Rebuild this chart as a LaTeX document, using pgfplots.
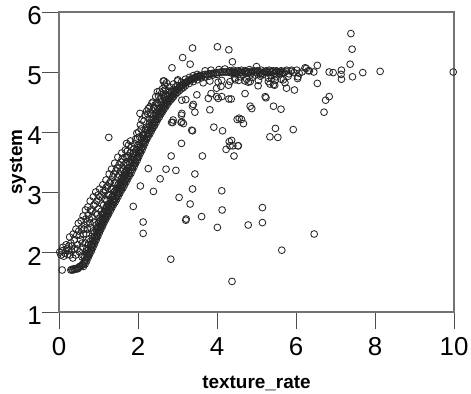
\documentclass[border=0pt]{standalone}
\usepackage{pgfplots}
\pgfplotsset{compat=1.18}
\usepackage{fontspec}
\setmainfont{Liberation Sans}
\tikzset{pt/.style={only marks, mark=o, mark size=3.4bp, draw=black!85, mark options={line width=0.85bp, draw=black!85, fill=none}}}
\begin{document}
\begin{tikzpicture}
\begin{axis}[
  scale only axis, width=395bp, height=300bp,
  xmin=0, xmax=10, ymin=1, ymax=6,
  xtick={0,2,4,6,8,10}, ytick={1,2,3,4,5,6},
  tick align=outside, major tick length=17bp,
  xtick pos=bottom, ytick pos=left,
  tick style={draw=black!70, line width=0.8bp},
  axis line style={draw=black!55, line width=1.3bp},
  /pgf/number format/assume math mode=true,
  ticklabel style={font=\fontsize{26}{28}\selectfont, inner sep=0pt},
  xticklabel style={yshift=-8bp},
  yticklabel style={yshift=-4bp},
  xlabel={texture\_rate}, ylabel={system},
  xlabel style={font=\fontsize{19}{21}\selectfont\bfseries, at={(axis description cs:0.5,0)}, anchor=center, yshift=-71bp},
  ylabel style={font=\fontsize{19}{21}\selectfont\bfseries, at={([xshift=-41bp]axis description cs:0,0.5)}, anchor=center},
]
% main curve
\addplot[pt] table {
x y
0.300 1.70
0.325 1.71
0.350 1.70
0.375 1.72
0.400 1.71
0.425 1.72
0.450 1.73
0.475 1.72
0.500 1.74
0.525 1.76
0.550 1.76
0.575 1.78
0.600 1.79
0.625 1.82
0.650 1.84
0.675 1.87
0.700 1.90
0.725 1.93
0.750 1.97
0.775 2.00
0.800 2.04
0.825 2.08
0.850 2.11
0.875 2.15
0.900 2.19
0.925 2.23
0.950 2.26
0.975 2.30
1.000 2.34
1.025 2.37
1.050 2.41
1.075 2.44
1.100 2.48
1.125 2.51
1.150 2.55
1.175 2.58
1.200 2.61
1.225 2.64
1.250 2.68
1.275 2.71
1.300 2.74
1.325 2.77
1.350 2.80
1.375 2.83
1.400 2.86
1.425 2.89
1.450 2.92
1.475 2.95
1.500 2.98
1.525 3.01
1.550 3.04
1.575 3.07
1.600 3.10
1.625 3.13
1.650 3.16
1.675 3.19
1.700 3.22
1.725 3.25
1.750 3.28
1.775 3.31
1.800 3.34
1.825 3.37
1.850 3.41
1.875 3.44
1.900 3.47
1.925 3.50
1.950 3.54
1.975 3.57
2.000 3.60
2.025 3.65
2.050 3.68
2.075 3.72
2.100 3.75
2.125 3.79
2.150 3.82
2.175 3.86
2.200 3.89
2.225 3.92
2.250 3.96
2.275 3.99
2.300 4.02
2.325 4.05
2.350 4.08
2.375 4.11
2.400 4.14
2.425 4.17
2.450 4.20
2.475 4.23
2.500 4.26
2.525 4.29
2.550 4.32
2.575 4.34
2.600 4.37
2.625 4.40
2.650 4.42
2.675 4.45
2.700 4.47
2.725 4.49
2.750 4.52
2.775 4.54
2.800 4.56
2.825 4.58
2.850 4.60
2.875 4.62
2.900 4.64
2.925 4.66
2.950 4.68
2.975 4.69
3.000 4.71
3.025 4.72
3.050 4.74
3.075 4.75
3.100 4.77
3.125 4.78
3.150 4.79
3.175 4.81
3.200 4.82
3.225 4.83
3.250 4.84
3.275 4.85
3.300 4.86
3.325 4.87
3.350 4.88
3.375 4.88
3.400 4.89
3.425 4.90
3.450 4.91
3.475 4.91
3.500 4.92
3.525 4.93
3.550 4.93
3.575 4.94
3.600 4.94
3.650 4.95
3.700 4.96
3.750 4.96
3.800 4.97
3.850 4.97
3.900 4.98
3.950 4.98
4.000 4.99
4.050 4.99
4.100 5.00
4.150 5.00
4.200 5.00
4.250 5.00
4.300 5.00
};
% second row of the curve
\addplot[pt] table {
x y
0.65 1.91
0.70 1.97
0.75 2.04
0.80 2.11
0.85 2.18
0.90 2.26
0.95 2.33
1.00 2.41
1.05 2.48
1.10 2.55
1.15 2.62
1.20 2.68
1.25 2.75
1.30 2.81
1.35 2.87
1.40 2.93
1.45 2.99
1.50 3.05
1.55 3.11
1.60 3.17
1.65 3.23
1.70 3.29
1.75 3.35
1.80 3.41
1.85 3.48
1.90 3.54
1.95 3.61
2.00 3.67
2.05 3.75
2.10 3.82
2.15 3.89
2.20 3.96
2.25 4.03
2.30 4.09
2.35 4.15
2.40 4.21
2.45 4.27
2.50 4.33
2.55 4.39
2.60 4.44
2.65 4.49
2.70 4.54
2.75 4.59
2.80 4.63
2.85 4.67
2.90 4.71
3.00 4.77
3.10 4.83
3.20 4.88
3.30 4.91
3.40 4.94
3.50 4.96
};
% third row (lower edge of the curve)
\addplot[pt] table {
x y
0.62 1.76
0.66 1.80
0.70 1.85
0.74 1.91
0.78 1.97
0.82 2.02
0.86 2.08
0.90 2.14
0.94 2.20
0.98 2.26
1.02 2.32
1.06 2.38
1.10 2.43
1.14 2.49
1.18 2.54
1.22 2.59
1.26 2.64
1.30 2.69
1.34 2.74
1.38 2.79
1.42 2.83
1.46 2.88
1.50 2.93
1.54 2.98
1.58 3.03
1.62 3.07
1.66 3.12
1.70 3.17
1.74 3.22
1.78 3.27
1.82 3.31
1.86 3.37
1.90 3.42
1.94 3.48
1.98 3.53
2.02 3.59
2.06 3.65
2.10 3.70
2.14 3.76
2.18 3.82
2.22 3.88
2.26 3.93
2.30 3.97
2.34 4.02
2.38 4.07
2.42 4.11
2.46 4.16
2.50 4.21
2.54 4.25
2.58 4.30
2.62 4.34
2.66 4.38
2.70 4.42
2.74 4.46
2.78 4.50
2.82 4.53
2.86 4.56
2.90 4.59
2.95 4.63
3.00 4.66
3.05 4.69
3.10 4.72
3.15 4.74
3.20 4.77
3.30 4.81
3.40 4.84
3.50 4.87
3.60 4.90
3.70 4.92
3.80 4.93
3.90 4.95
4.00 4.96
};
% fourth row (upper side of the curve)
\addplot[pt] table {
x y
0.60 1.95
0.70 2.05
0.75 2.12
0.80 2.18
0.85 2.23
0.90 2.33
0.95 2.38
1.00 2.48
1.05 2.52
1.10 2.62
1.15 2.66
1.20 2.75
1.25 2.80
1.30 2.88
1.35 2.92
1.40 3.00
1.45 3.04
1.50 3.12
1.55 3.16
1.60 3.24
1.65 3.28
1.70 3.36
1.75 3.40
1.80 3.48
1.85 3.53
1.90 3.61
1.95 3.66
2.00 3.74
2.05 3.80
2.10 3.89
2.15 3.94
2.20 4.03
2.25 4.08
2.30 4.16
2.35 4.20
2.40 4.28
2.45 4.32
2.50 4.39
2.60 4.50
2.70 4.60
2.80 4.68
};
% band left of the curve
\addplot[pt] table {
x y
0.02 2.00
0.05 1.95
0.08 2.02
0.08 1.70
0.12 1.93
0.15 1.98
0.20 2.05
0.22 1.96
0.25 2.10
0.28 1.95
0.30 2.15
0.32 2.02
0.35 1.90
0.38 2.20
0.40 2.05
0.42 1.95
0.45 2.28
0.47 2.12
0.50 2.35
0.52 2.00
0.55 2.20
0.57 2.40
0.58 1.92
0.60 2.08
0.62 2.30
0.64 2.45
0.66 2.15
0.68 2.55
0.70 2.02
0.72 2.38
0.74 2.62
0.76 2.22
0.78 2.48
0.80 2.70
0.82 2.12
0.84 2.58
0.86 2.35
0.88 2.78
0.90 2.25
0.92 2.65
0.94 2.45
0.96 2.85
0.98 2.38
1.00 2.72
1.02 2.55
1.04 2.92
1.06 2.45
1.08 2.80
1.10 2.62
1.12 3.00
1.14 2.55
1.16 2.88
1.18 2.70
1.20 3.08
1.22 2.65
1.24 2.95
1.26 2.80
1.26 3.91
1.28 3.15
1.30 2.78
1.32 3.05
1.34 2.92
1.36 3.25
1.38 2.88
1.40 3.15
1.42 3.02
1.44 3.35
1.46 3.00
1.48 3.25
1.50 3.12
1.52 3.45
1.54 3.10
1.56 3.35
1.58 3.22
1.60 3.55
1.62 3.20
1.64 3.45
1.66 3.32
1.68 3.70
1.70 3.35
1.71 3.81
1.72 3.58
1.74 3.45
1.76 3.78
1.78 3.50
1.80 3.65
1.84 3.76
1.86 3.58
1.90 3.72
1.94 3.88
1.97 3.98
2.00 3.78
2.04 3.92
2.05 4.31
2.08 4.05
2.12 3.95
2.15 4.18
2.20 4.05
2.22 4.35
2.26 4.39
2.28 4.22
2.32 4.30
2.35 4.48
2.40 4.40
2.45 4.59
2.48 4.48
2.49 4.67
2.52 4.60
2.56 4.55
2.60 4.65
2.64 4.85
2.64 4.63
2.66 4.58
2.70 4.70
2.75 4.62
2.80 4.75
2.85 4.68
2.90 4.80
2.95 4.75
3.00 4.85
0.10 2.08
0.18 2.12
0.24 2.02
0.27 2.25
0.33 2.10
0.36 2.30
0.43 2.38
0.46 2.05
0.49 2.48
0.53 2.28
0.56 2.52
0.59 2.15
0.61 2.60
0.63 2.38
0.67 2.70
0.69 2.30
0.71 2.50
0.73 2.75
0.77 2.55
0.79 2.85
0.81 2.40
0.83 2.68
0.87 2.92
0.89 2.50
0.91 2.80
0.93 3.00
0.97 2.62
0.99 2.95
1.01 2.50
1.03 3.05
1.07 2.68
1.09 2.95
1.11 3.12
1.13 2.78
1.17 3.02
1.19 3.20
1.21 2.85
1.23 3.10
1.27 3.30
1.29 2.95
1.31 3.18
1.33 3.38
1.37 3.05
1.39 3.30
1.41 3.48
1.43 3.15
1.47 3.40
1.49 3.58
1.53 3.28
1.57 3.50
1.59 3.65
1.63 3.38
1.67 3.58
1.69 3.48
1.73 3.68
1.77 3.60
1.81 3.85
1.83 3.55
1.88 3.65
1.92 3.80
1.96 3.70
1.99 3.90
2.02 4.00
2.06 4.12
2.10 4.20
2.18 4.28
2.25 4.30
2.30 4.42
2.38 4.50
2.43 4.45
2.55 4.68
2.62 4.72
2.68 4.78
2.72 4.82
};
% scattered points
\addplot[pt] table {
x y
3.38 5.40
4.01 5.42
4.30 5.37
4.39 5.17
3.13 5.24
3.32 5.13
2.86 5.07
2.66 4.85
3.01 4.87
3.38 4.02
3.92 4.08
4.14 4.02
3.11 4.31
2.85 4.16
3.11 4.17
3.40 4.46
3.44 4.33
3.10 3.81
2.84 3.60
3.63 3.60
4.31 3.84
4.33 3.77
4.43 3.60
4.23 3.71
4.53 3.77
2.26 3.39
2.71 3.38
2.96 3.36
2.56 3.22
3.44 3.30
2.06 3.10
2.39 3.01
3.38 3.05
4.12 3.02
3.04 2.91
3.32 2.80
3.21 2.53
3.22 2.55
3.61 2.59
4.13 2.70
4.01 2.41
4.38 1.51
2.83 1.88
1.88 2.76
2.13 2.50
2.13 2.31
5.15 2.74
4.79 2.45
5.15 2.49
6.46 2.30
5.64 2.03
7.39 5.64
7.42 5.38
7.37 5.13
7.43 4.92
7.69 4.99
8.13 5.01
9.98 5.00
6.54 5.11
6.54 4.81
6.84 5.00
6.94 4.99
7.15 5.03
7.15 4.88
7.14 4.96
6.75 4.53
6.84 4.59
6.71 4.33
5.96 4.70
5.76 4.73
5.43 4.79
5.46 4.78
5.04 4.77
5.24 4.57
5.43 4.43
5.62 4.38
4.71 4.64
4.84 4.43
4.88 4.39
4.56 4.23
4.62 4.21
4.67 4.14
5.48 4.06
5.34 3.92
5.54 3.91
5.93 4.04
4.37 3.86
4.40 3.77
4.54 3.77
3.82 4.37
3.78 4.56
4.03 4.56
4.30 4.55
4.10 4.76
4.29 4.78
4.51 4.21
3.49 4.62
3.11 4.53
3.21 4.54
2.41 4.41
2.49 4.48
5.00 5.09
6.23 5.07
6.31 5.02
5.89 5.03
6.04 4.89
5.68 4.87
5.38 4.89
4.84 4.84
4.46 4.87
2.88 4.16
3.09 4.16
3.15 4.14
3.10 4.28
3.38 4.43
4.36 4.55
3.99 4.59
4.12 4.59
3.85 4.64
3.99 4.73
5.22 4.59
2.89 4.20
3.36 4.03
3.65 4.82
3.82 4.85
4.03 4.83
4.12 4.86
4.33 4.84
4.71 4.85
4.79 4.83
5.05 4.86
5.30 4.84
5.47 4.86
5.34 4.80
5.72 4.82
3.70 5.02
3.85 5.03
4.05 5.04
4.20 5.05
};
% flat part near 5
\addplot[pt] table {
x y
4.32 5.02
4.38 4.98
4.42 5.03
4.47 4.97
4.52 5.01
4.57 4.99
4.62 5.03
4.66 4.96
4.72 5.02
4.77 4.98
4.82 5.04
4.86 4.97
4.91 5.01
4.96 4.95
5.02 5.02
5.07 4.98
5.12 5.03
5.17 4.96
5.22 5.01
5.27 4.99
5.32 5.03
5.36 4.95
5.42 5.02
5.47 4.98
5.52 5.01
5.58 4.97
5.63 5.02
5.70 4.99
5.76 5.03
5.82 4.97
5.88 5.01
5.95 4.99
6.02 5.03
6.08 4.98
6.15 5.00
6.26 5.06
6.34 5.02
6.45 5.00
4.45 4.90
4.60 4.92
4.90 4.91
5.10 4.93
5.30 4.90
5.50 4.92
5.62 4.88
5.80 4.93
6.05 4.92
4.55 4.86
4.75 4.88
4.34 4.99
4.40 5.01
4.44 4.99
4.50 4.98
4.54 5.02
4.60 5.00
4.64 4.99
4.70 5.01
4.74 5.00
4.80 4.99
4.84 5.01
4.88 5.00
4.94 5.02
5.00 4.99
5.04 5.01
5.10 5.00
5.14 4.98
5.20 5.00
5.25 5.02
5.30 4.99
5.34 5.01
5.40 5.00
5.45 4.98
5.50 5.02
5.55 5.00
5.60 5.01
5.66 4.99
5.74 5.01
};
\end{axis}
\pgfresetboundingbox
\path[use as bounding box] (-59bp,-82bp) rectangle (412bp,312bp);
\end{tikzpicture}
\end{document}
